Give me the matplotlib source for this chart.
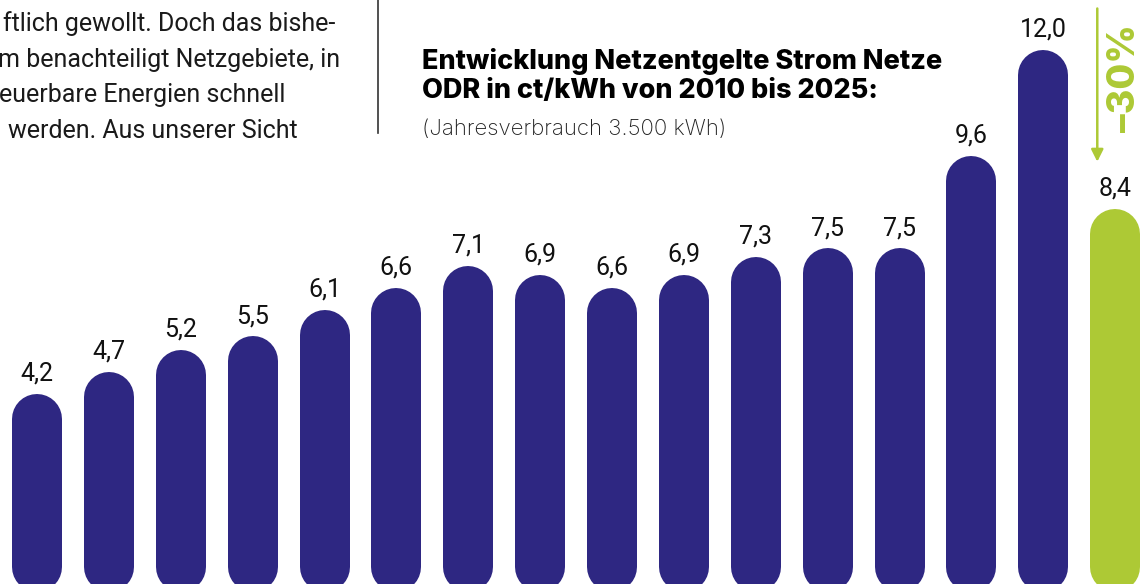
import matplotlib.pyplot as plt

# Netzentgelte Strom ODR, ct/kWh
years = list(range(2010, 2026))
values = [4.2, 4.7, 5.2, 5.5, 6.1, 6.6, 7.1, 6.9, 6.6, 6.9, 7.3, 7.5, 7.5, 9.6, 12.0, 8.4]
labels = [f'{v:.1f}'.replace('.', ',') for v in values]

navy = '#2e2782'
green = '#adc935'
bar_colors = [navy] * 15 + [green]

# fragment of the article text on the left (cut off in the original)
para = ['ftlich gewollt. Doch das bishe-',
        'm benachteiligt Netzgebiete, in',
        'euerbare Energien schnell',
        'werden. Aus unserer Sicht']

fig = plt.figure(figsize=(11.44, 5.84), dpi=100)
ax = fig.add_axes([0, 0, 1, 1])
ax.set_xlim(-0.515, 15.40)
ax.set_ylim(-0.113, 13.13)
ax.axis('off')

px = 44.1          # pixels per ct/kWh
r = 25 / px        # half bar width in data units -> round cap
for i, v in enumerate(values):
    ax.plot([i, i], [0.27, v - r], color=bar_colors[i], lw=36,
            solid_capstyle='round')
    ax.text(i, v + 0.3, labels[i], ha='center', va='baseline',
            fontsize=18, family='Roboto', color='#111111')

# arrow and -30%
ax.annotate('', xy=(14.75, 9.4), xytext=(14.75, 13.0),
            arrowprops=dict(arrowstyle='-|>', color=green, lw=1.8,
                            mutation_scale=18))
ax.text(15.14, 11.35, '–30%', rotation=90, ha='center', va='center',
        fontsize=27, fontweight='heavy', family='Inter', color=green)

# title
fig.text(422 / 1144, 1 - 98 / 584,
         'Entwicklung Netzentgelte Strom Netze\nODR in ct/kWh von 2010 bis 2025:',
         ha='left', va='baseline', fontsize=19.5, fontweight='heavy',
         family='Inter', color='black', linespacing=1.15)
fig.text(422 / 1144, 1 - 135 / 584, '(Jahresverbrauch 3.500 kWh)',
         ha='left', va='baseline', fontsize=16, family='Inter',
         fontweight='light', color='#222222')

# paragraph + separator line
para_x = [3, -2, -1, 8]
for k, line in enumerate(para):
    fig.text(para_x[k] / 1144, 1 - (31 + 35.5 * k) / 584, line,
             ha='left', va='baseline', fontsize=18, family='Roboto',
             color='#1a1a1a')
fig.add_artist(plt.Line2D([378 / 1144, 378 / 1144], [1, 1 - 133 / 584],
                          color='#333333', lw=1.2))

fig.savefig('out.png', dpi=100)
